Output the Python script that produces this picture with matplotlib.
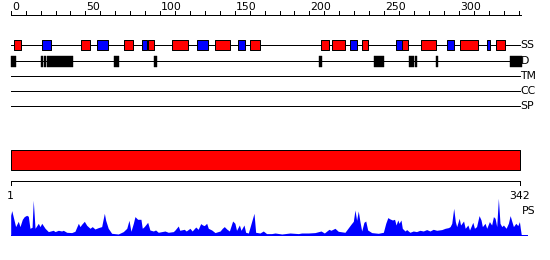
import numpy as np
import matplotlib
matplotlib.use('Agg')
import matplotlib.pyplot as plt

seq_len = 342

# secondary structure: H = helix (red), E = strand (blue)
ss_start = [2, 21, 47, 58, 76, 88, 92, 108, 125, 137, 152, 160, 208, 215, 227, 235, 258, 262, 275, 292, 301, 319, 325]
ss_end = [7, 27, 53, 65, 82, 91, 96, 119, 132, 147, 157, 167, 213, 224, 232, 239, 262, 266, 285, 297, 313, 321, 331]
ss_type = ['H', 'E', 'H', 'E', 'H', 'E', 'H', 'H', 'E', 'H', 'E', 'H',
           'H', 'H', 'E', 'H', 'E', 'H', 'H', 'E', 'H', 'E', 'H']

# disordered regions
dis_start = [0, 20.3, 22.1, 24.4, 69.4, 96, 206.4, 243.3, 266.8, 270.6, 285, 334.6]
dis_end = [3.6, 21.5, 23.5, 41.8, 72.7, 98, 208.2, 250, 270, 272.2, 286.2, 342]

track_names = ['SS', 'D', 'TM', 'CC', 'SP']

# PS profile (residue, score)
ps_pos = [1, 1.7, 4.3, 6.1, 7.2, 8.8, 10.1, 11.7, 12.8, 13.9, 15.3, 16.1, 17.3, 19.5, 20.6, 21.8, 22.8, 24,
          26.2, 29.5, 30.7, 32.9, 35.1, 36.2, 38.5, 41.8, 44, 46.3, 47.4, 48.5, 50.3, 51.9, 54.1, 55.6, 57.4,
          59.7, 61.9, 63.7, 64.6, 66.3, 68.6, 73, 76.4, 78.7, 80.2, 81.5, 83.1, 84.2, 86, 88.2, 89.1, 90.4,
          92.7, 94.2, 96.5, 98, 99.8, 104.3, 106.5, 109.9, 111, 113.2, 114.2, 117.2, 118.5, 121, 122.5, 124.9,
          126.5, 128.2, 129.5, 130.6, 132.2, 133.3, 135.6, 137.8, 141.2, 142.7, 144, 145.6, 147.4, 149.6,
          151.1, 152.2, 154.1, 155.2, 157.2, 158.3, 160.1, 163.9, 165, 167.9, 170.1, 172.3, 175.7, 178, 182.5,
          188, 193.6, 195.8, 200.3, 204.7, 208.8, 211, 214.1, 215.4, 218.1, 220.3, 224.8, 228.8, 230.4, 231.5,
          232.6, 233.7, 234.8, 236, 237.5, 238.7, 240, 242.7, 247.1, 250.5, 252.1, 253.5, 255, 256.6, 258,
          259, 260.2, 261, 262.3, 263.2, 265, 266.1, 268.3, 270.5, 272.7, 275, 277.2, 279.5, 281.7, 283.9,
          286.2, 289.6, 291.9, 294.1, 295.2, 296.3, 297.6, 298.7, 299.6, 301.3, 302.2, 304.2, 305.3, 307.1,
          308.2, 310.4, 311.5, 312.9, 314.6, 315.9, 316.8, 318.6, 319.7, 321.5, 323, 324.2, 325.3, 326.4,
          327.5, 328.6, 329.8, 330.9, 332.7, 334.2, 335.4, 336.5, 337.6, 339.2, 340.5, 341.6, 342.2, 342.9]
ps_val = [20, 24.7, 8.7, 14, 8.7, 16, 18.7, 20, 19, 7, 8, 35, 7, 12, 8.7, 12, 9.7, 7,
          3.7, 5, 3.7, 5, 4.3, 5, 3, 2.7, 4, 12, 8.7, 11, 14, 10, 7, 8.7, 6.3,
          7.7, 8.7, 22, 15, 7, 2, 1.3, 3.7, 7, 15, 4, 12, 18.7, 16, 16, 7, 8.7,
          13, 5.3, 4.3, 5.3, 3, 4.3, 3, 3.7, 5.3, 9.3, 5, 6, 4.3, 7, 4.3, 8.3,
          6, 11.7, 10.3, 9.7, 12, 7, 5.3, 2.7, 4.3, 7, 8.7, 6.3, 4.3, 14.3,
          12, 5, 10.3, 5, 10.3, 3, 2.3, 22, 3, 2.3, 4.3, 1.7, 1.7, 2.3, 1.3,
          2.3, 1.7, 2.3, 2.3, 2.7, 4.3, 2.3, 6, 5, 7, 4, 3, 11, 14, 25.3,
          15, 24.3, 14, 4.3, 13, 14.3, 5.3, 2.7, 2, 3, 12, 17.7, 16.3, 15.3, 16,
          10.3, 15.3, 12, 15.3, 7, 4.3, 5.7, 3, 4.3, 3.7, 5, 4.3, 5.7, 4.3, 6,
          5, 5.7, 7, 7.7, 8.7, 12, 27, 13.7, 8.7, 17, 10.3, 14.3, 7, 10.3,
          5.3, 13, 7, 8.7, 19.7, 15.3, 8.7, 12, 7, 13.7, 10.3, 18.7, 17, 8.7,
          37, 12, 8.7, 10.3, 7, 12, 19.7, 14, 8.7, 12, 9.7, 13.7, 7, 0]

px = 1.4936  # pixels per residue
fig = plt.figure(figsize=(5.5, 2.6), dpi=100)
ax = fig.add_axes([0, 0, 1, 1])
ax.set_xlim(-10.7 / px, (550 - 10.7) / px)
ax.set_ylim(260, 0)
ax.axis('off')

lw = 0.72
fs = 7.8
end = seq_len - 1

# top ruler
ax.plot([0, end + 0.5], [15, 15], color='black', lw=lw)
for t in range(0, 341, 10):
    ax.plot([t, t], [11, 15], color='black', lw=lw)
    if t % 50 == 0:
        ax.text(t + 0.8, 6.5, str(t), fontsize=fs, ha='left', va='center')

# track lines + labels
track_y = [45, 61, 75.5, 90.5, 105.5]
for name, y in zip(track_names, track_y):
    ax.plot([0, end], [y, y], color='black', lw=lw)
    ax.text(end + 0.3, y + 0.5, name, fontsize=fs, ha='left', va='center')

helix = [(s, e - s) for s, e, k in zip(ss_start, ss_end, ss_type) if k == 'H']
strand = [(s, e - s) for s, e, k in zip(ss_start, ss_end, ss_type) if k == 'E']
ax.broken_barh(helix, (40, 10), facecolors='#ff0000', edgecolors='black', linewidth=lw, zorder=3)
ax.broken_barh(strand, (40, 10), facecolors='#0000ff', edgecolors='black', linewidth=lw, zorder=3)

ax.broken_barh([(s, e - s) for s, e in zip(dis_start, dis_end)], (55.5, 11),
               facecolors='black', edgecolors='black', linewidth=0.3, zorder=3)

# sequence bar
ax.broken_barh([(0, end)], (150.3, 20), facecolors='#ff0000', edgecolors='black', linewidth=lw)

# bottom ruler
ax.plot([0, end], [180.7, 180.7], color='black', lw=lw)
ax.plot([0, 0], [180.7, 185], color='black', lw=lw)
ax.plot([end, end], [180.7, 185], color='black', lw=lw)
ax.text(0, 196, '1', fontsize=fs, ha='center', va='center')
ax.text(end, 196, str(seq_len), fontsize=fs, ha='center', va='center')
ax.text(end + 1, 211, 'PS', fontsize=fs, ha='left', va='center')

# PS profile
base = 235.3
x = np.array(ps_pos) - 1
v = np.array(ps_val)
ax.fill_between(x, base, base - v, color='#0000ff', lw=0)
ax.plot([0, end + 5], [base, base], color='#0000ff', lw=lw)

fig.savefig('out.png', dpi=100)
